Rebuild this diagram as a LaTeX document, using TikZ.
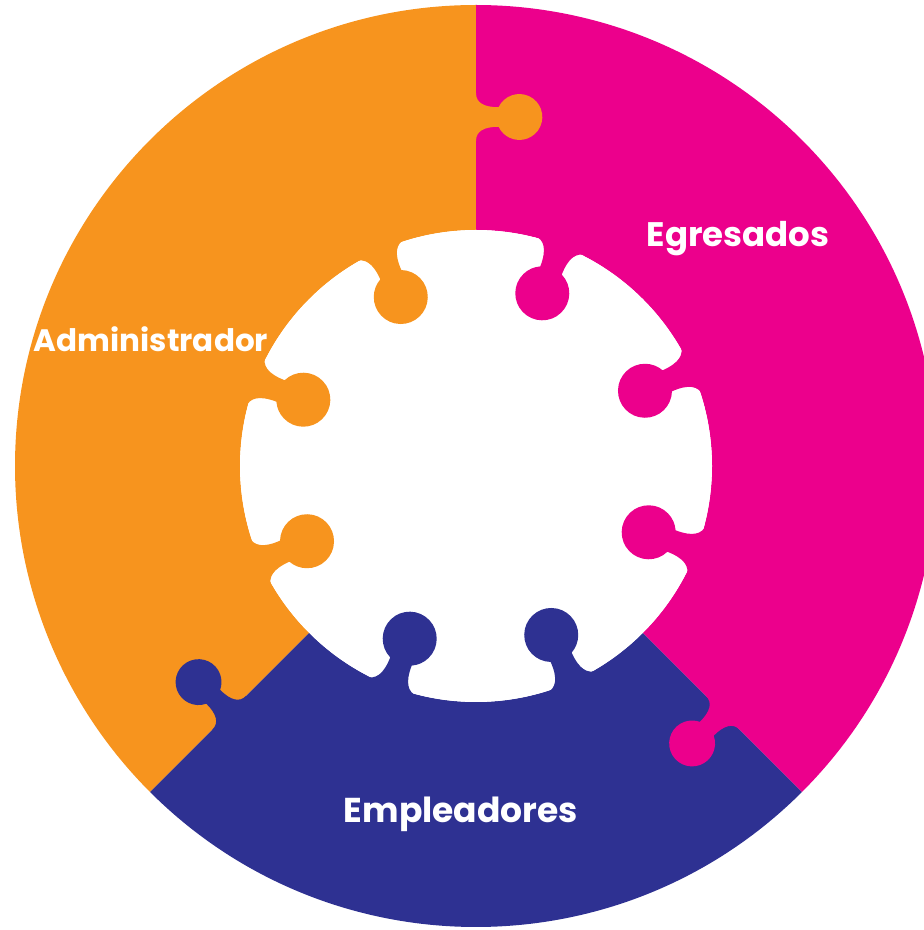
\documentclass[tikz,border=0pt]{standalone}
\usepackage{fontspec}
\setmainfont{Poppins}
\definecolor{orangepc}{RGB}{247,148,30}
\definecolor{magentapc}{RGB}{236,0,140}
\definecolor{bluepc}{RGB}{46,49,146}

\begin{document}
\begin{tikzpicture}[x=1pt, y=1pt,
        main/.style = {text=white, font=\bfseries\fontsize{#1}{40}\selectfont, anchor=base},
        knob/.pic = {
            \fill (-28,-6) -- (-28,0) .. controls (-17,0) and (-11.5,9) .. (-11.5,26.6)
                arc[start angle=244.8, end angle=-64.8, radius=27]
                .. controls (11.5,9) and (17,0) .. (28,0) -- (28,-6) -- cycle;
        }]
        \clip (0,0) rectangle (924,930);
        \begin{scope}[shift={(476,464)}]
            \fill[orangepc] (90:461) arc[start angle=90, end angle=225, radius=461]
                -- (225:236) arc[start angle=225, end angle=90, radius=236] -- cycle;
            \fill[bluepc] (225:461) arc[start angle=225, end angle=315, radius=461]
                -- (315:236) arc[start angle=315, end angle=225, radius=236] -- cycle;
            \fill[magentapc] (-45:461) arc[start angle=-45, end angle=90, radius=461]
                -- (90:236) arc[start angle=90, end angle=-45, radius=236] -- cycle;

            \pic[color=orangepc, rotate=-90, scale=0.85] at (90:349) {knob};
            \pic[color=bluepc, rotate=45, scale=0.85] at (225:349) {knob};
            \pic[color=magentapc, rotate=135, scale=0.85] at (315:349) {knob};

            \fill[white] (0,0) circle[radius=236];
            \foreach \a/\c in {24/magentapc, 69/magentapc, 114/orangepc, 159/orangepc,
                    204/orangepc, 249/bluepc, 294/bluepc, 339/magentapc}
                \pic[color=\c, rotate=\a+90] at (\a:236) {knob};
        \end{scope}

        \node[main=31] (1) at (151,578) {Administrador};
        \node[main=34] (2) at (738,683) {Egresados};
        \node[main=34.5] (3) at (461,107) {Empleadores};
\end{tikzpicture}
\end{document}
